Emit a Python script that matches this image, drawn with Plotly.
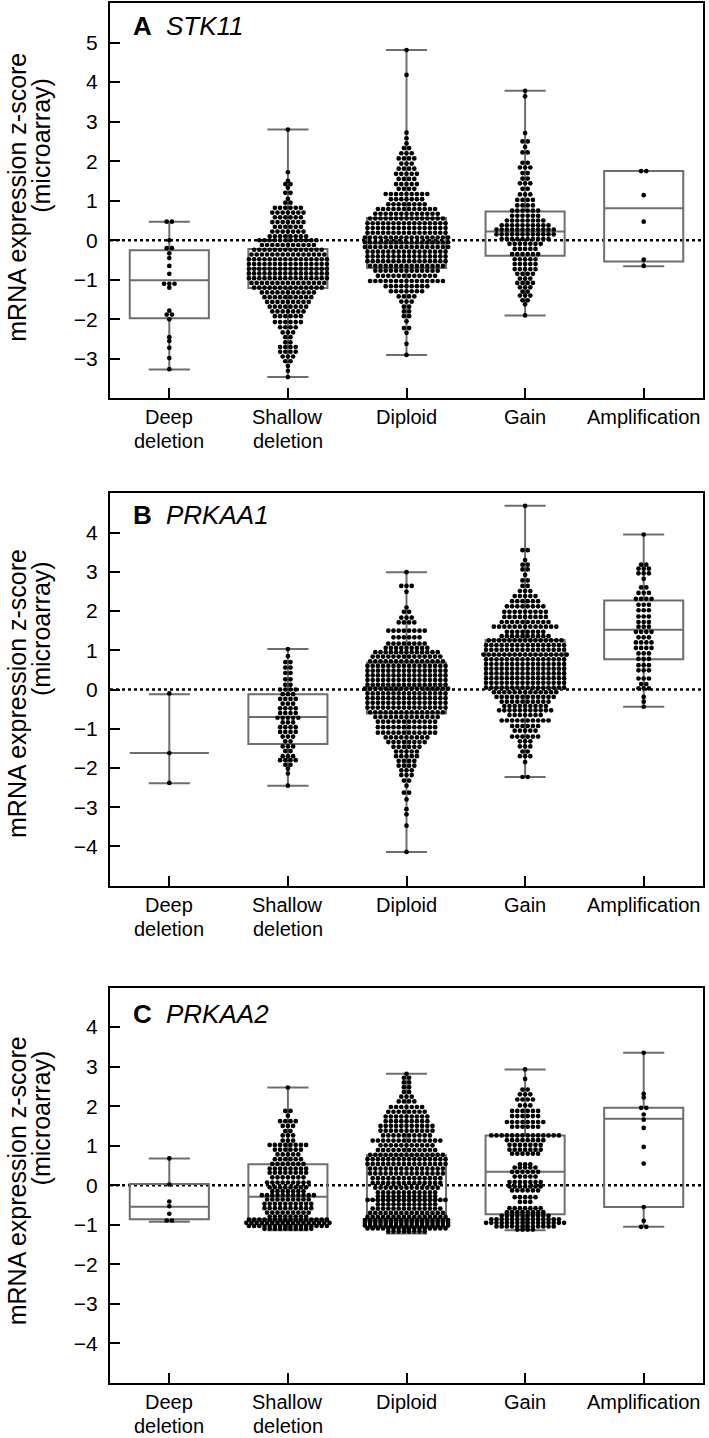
import plotly.graph_objects as go

# ---------------- categories ----------------
categories = ["Deep<br>deletion", "Shallow<br>deletion", "Diploid", "Gain", "Amplification"]
cat_pos = [0, 1, 2, 3, 4]

# ---------------- Panel A: STK11 (rows of the dot plot: level, number of dots) ----------------
stk11_deep_y = [0.47, 0.00, -0.20, -0.33, -0.45, -0.65, -0.85, -1.10, -1.20, -1.78, -1.88, -2.00, -2.45, -2.55, -2.72, -2.98, -3.26]
stk11_deep_n = [2, 1, 2, 1, 1, 1, 1, 3, 1, 1, 2, 1, 1, 1, 1, 1, 1]
stk11_shallow_y = [2.80, 1.72, 1.50, 1.42, 1.33, 1.20, 1.05, 0.95, 0.82, 0.70, 0.58, 0.46, 0.34, 0.22, 0.10, 0.00,
                   -0.12, -0.24, -0.36, -0.48, -0.60, -0.72, -0.84, -0.96, -1.08, -1.20, -1.32, -1.44, -1.56, -1.68,
                   -1.80, -1.92, -2.07, -2.20, -2.33, -2.45, -2.58, -2.70, -2.82, -2.94, -3.06, -3.18, -3.30, -3.46]
stk11_shallow_n = [1, 1, 1, 2, 1, 2, 1, 2, 6, 7, 6, 7, 6, 7, 8, 12,
                   11, 14, 15, 16, 16, 16, 16, 16, 15, 14, 11, 10, 9, 8,
                   7, 6, 6, 4, 3, 2, 2, 4, 4, 3, 2, 1, 1, 1]
stk11_diploid_y = [4.81, 4.18, 2.72, 2.58, 2.45, 2.33, 2.20, 2.07, 1.94, 1.81, 1.68, 1.55, 1.42, 1.30, 1.17, 1.04,
                   0.91, 0.79, 0.67, 0.55, 0.43, 0.31, 0.19, 0.07, -0.05, -0.17, -0.29, -0.41, -0.53, -0.65,
                   -0.77, -0.90, -1.03, -1.16, -1.29, -1.42, -1.55, -1.68, -1.80, -1.92, -2.05, -2.22, -2.34, -2.62, -2.90]
stk11_diploid_n = [1, 1, 1, 1, 1, 2, 3, 4, 3, 4, 5, 4, 5, 4, 9, 7,
                   8, 12, 13, 15, 16, 16, 16, 17, 17, 17, 16, 16, 16, 15,
                   13, 12, 15, 9, 7, 4, 3, 2, 2, 2, 1, 2, 1, 1, 1]
stk11_gain_y = [3.78, 3.64, 2.71, 2.50, 2.36, 2.22, 1.96, 1.84, 1.70, 1.56, 1.44, 1.30, 1.16, 1.02, 0.88, 0.75,
                0.62, 0.50, 0.38, 0.27, 0.15, 0.03, -0.09, -0.22, -0.35, -0.48, -0.60, -0.73, -0.85, -0.97,
                -1.08, -1.19, -1.30, -1.40, -1.52, -1.62, -1.90]
stk11_gain_n = [1, 1, 1, 2, 1, 2, 2, 3, 2, 2, 3, 2, 3, 4, 4, 6,
                6, 8, 10, 12, 12, 10, 7, 5, 6, 5, 5, 5, 4, 3,
                4, 3, 2, 3, 2, 1, 1]
stk11_amp_y = [1.75, 1.14, 0.47, -0.49, -0.65]
stk11_amp_n = [2, 1, 1, 1, 1]

stk11_q1 = [-1.97, -1.21, -0.70, -0.39, -0.54]
stk11_median = [-1.01, -0.72, -0.08, 0.22, 0.81]
stk11_q3 = [-0.25, -0.22, 0.56, 0.73, 1.75]
stk11_min = [-3.27, -3.46, -2.90, -1.90, -0.66]
stk11_max = [0.47, 2.80, 4.81, 3.78, 1.75]

# ---------------- Panel B: PRKAA1 ----------------
prkaa1_deep_y = [-0.10, -1.62, -2.38]
prkaa1_deep_n = [1, 1, 1]
prkaa1_shallow_y = [1.03, 0.85, 0.70, 0.56, 0.42, 0.26, 0.12, 0.00, -0.12, -0.24, -0.36, -0.48, -0.60, -0.72,
                    -0.84, -0.96, -1.08, -1.20, -1.32, -1.45, -1.57, -1.70, -1.80, -1.92, -2.02, -2.14, -2.45]
prkaa1_shallow_n = [1, 1, 2, 2, 2, 2, 2, 4, 3, 4, 3, 4, 4, 5,
                    3, 4, 4, 3, 2, 3, 2, 3, 4, 2, 1, 1, 1]
prkaa1_diploid_y = [2.99, 2.64, 2.49, 2.09, 1.98, 1.83, 1.71, 1.50, 1.33, 1.17, 1.06, 0.95, 0.84, 0.72, 0.60,
                    0.48, 0.36, 0.24, 0.12, 0.02, -0.10, -0.22, -0.34, -0.46, -0.58, -0.70, -0.82, -0.96,
                    -1.10, -1.22, -1.34, -1.46, -1.58, -1.70, -1.82, -1.94, -2.06, -2.18, -2.32, -2.45,
                    -2.63, -2.80, -3.05, -3.18, -3.47, -4.14]
prkaa1_diploid_n = [1, 3, 1, 1, 2, 3, 4, 8, 6, 8, 9, 13, 14, 15, 16,
                    16, 16, 16, 16, 17, 16, 16, 16, 16, 15, 13, 12, 12,
                    12, 9, 8, 6, 5, 5, 4, 4, 3, 3, 2, 1,
                    2, 1, 1, 1, 1, 1]
prkaa1_gain_y = [4.68, 3.55, 3.30, 3.18, 3.06, 2.92, 2.78, 2.64, 2.51, 2.38, 2.25, 2.12, 1.98, 1.85, 1.72,
                 1.60, 1.47, 1.36, 1.25, 1.13, 1.01, 0.89, 0.77, 0.65, 0.53, 0.41, 0.29, 0.17, 0.05,
                 -0.07, -0.19, -0.31, -0.42, -0.53, -0.65, -0.79, -0.93, -1.05, -1.20, -1.32, -1.45,
                 -1.58, -1.70, -1.85, -2.23]
prkaa1_gain_n = [1, 2, 1, 2, 2, 1, 2, 2, 3, 5, 6, 8, 9, 9, 10,
                 13, 8, 10, 15, 16, 16, 17, 16, 16, 16, 16, 16, 16, 16,
                 13, 12, 10, 9, 11, 7, 10, 6, 5, 6, 3, 3,
                 2, 3, 1, 2]
prkaa1_amp_y = [3.95, 3.18, 3.08, 2.96, 2.82, 2.60, 2.46, 2.31, 2.16, 2.02, 1.86, 1.72, 1.60, 1.47, 1.33,
                1.20, 1.06, 0.92, 0.78, 0.62, 0.49, 0.28, 0.14, 0.03, -0.19, -0.31, -0.44]
prkaa1_amp_n = [1, 2, 3, 3, 1, 2, 3, 4, 3, 3, 3, 3, 3, 4, 3,
                4, 4, 3, 3, 3, 3, 3, 2, 3, 1, 1, 1]

prkaa1_q1 = [-1.62, -1.39, -0.61, 0.03, 0.77]
prkaa1_median = [-1.62, -0.70, 0.03, 0.88, 1.52]
prkaa1_q3 = [-1.62, -0.12, 0.68, 1.26, 2.27]
prkaa1_min = [-2.39, -2.45, -4.14, -2.23, -0.44]
prkaa1_max = [-0.12, 1.03, 2.99, 4.68, 3.95]

# ---------------- Panel C: PRKAA2 ----------------
prkaa2_deep_y = [0.68, 0.02, -0.41, -0.53, -0.72, -0.89]
prkaa2_deep_n = [1, 1, 1, 1, 1, 2]
prkaa2_shallow_y = [2.47, 1.88, 1.76, 1.62, 1.50, 1.37, 1.26, 1.13, 1.02, 0.90, 0.78, 0.66, 0.54, 0.42,
                    0.32, 0.20, 0.07, -0.05, -0.15, -0.25, -0.36, -0.47, -0.58, -0.69, -0.79, -0.87,
                    -0.95, -1.03, -1.10]
prkaa2_shallow_n = [1, 2, 1, 4, 3, 2, 3, 3, 8, 6, 5, 6, 7, 8,
                    8, 7, 9, 8, 7, 11, 9, 10, 10, 9, 8, 16,
                    17, 16, 10]
prkaa2_diploid_y = [2.82, 2.72, 2.60, 2.48, 2.36, 2.24, 2.12, 1.98, 1.86, 1.74, 1.62, 1.50, 1.38, 1.26,
                    1.13, 1.01, 0.89, 0.77, 0.66, 0.54, 0.42, 0.30, 0.18, 0.06, -0.06, -0.18, -0.28,
                    -0.37, -0.48, -0.59, -0.70, -0.80, -0.88, -0.95, -1.02, -1.09, -1.17]
prkaa2_diploid_n = [1, 2, 2, 2, 2, 3, 4, 7, 8, 9, 9, 11, 11, 10,
                    14, 11, 12, 15, 16, 16, 15, 15, 14, 14, 13, 12, 12,
                    16, 12, 14, 15, 16, 17, 17, 17, 16, 8]
prkaa2_gain_y = [2.93, 2.69, 2.42, 2.30, 2.17, 2.02, 1.88, 1.75, 1.60, 1.48, 1.26, 1.14, 1.02, 0.90, 0.80,
                 0.53, 0.45, 0.34, 0.22, 0.08, -0.03, -0.13, -0.30, -0.42, -0.58, -0.68, -0.77, -0.86,
                 -0.95, -1.04, -1.12]
prkaa2_gain_n = [1, 1, 2, 3, 4, 3, 6, 6, 8, 6, 14, 8, 7, 7, 6,
                 3, 5, 6, 5, 7, 7, 6, 5, 3, 7, 8, 10, 14,
                 16, 12, 4]
prkaa2_amp_y = [3.35, 2.31, 2.22, 1.96, 1.79, 1.66, 1.45, 0.97, 0.55, -0.55, -0.90, -1.05]
prkaa2_amp_n = [1, 1, 1, 2, 1, 1, 1, 1, 1, 1, 1, 2]

prkaa2_q1 = [-0.86, -0.86, -0.90, -0.73, -0.55]
prkaa2_median = [-0.54, -0.29, -0.37, 0.34, 1.68]
prkaa2_q3 = [0.03, 0.53, 0.76, 1.26, 1.96]
prkaa2_min = [-0.92, -1.14, -1.22, -1.14, -1.05]
prkaa2_max = [0.68, 2.47, 2.82, 2.93, 3.35]

# ---------------- assemble ----------------
panels = [
    dict(letter="A", gene="STK11", yrange=[-4, 6], ticks=[-3, -2, -1, 0, 1, 2, 3, 4, 5],
         rows=[(stk11_deep_y, stk11_deep_n), (stk11_shallow_y, stk11_shallow_n),
               (stk11_diploid_y, stk11_diploid_n), (stk11_gain_y, stk11_gain_n), (stk11_amp_y, stk11_amp_n)],
         q1=stk11_q1, med=stk11_median, q3=stk11_q3, lo=stk11_min, hi=stk11_max,
         top=1, bottom=397, lab_y=24, t1=196, t2=144),
    dict(letter="B", gene="PRKAA1", yrange=[-5, 5], ticks=[-4, -3, -2, -1, 0, 1, 2, 3, 4],
         rows=[(prkaa1_deep_y, prkaa1_deep_n), (prkaa1_shallow_y, prkaa1_shallow_n),
               (prkaa1_diploid_y, prkaa1_diploid_n), (prkaa1_gain_y, prkaa1_gain_n), (prkaa1_amp_y, prkaa1_amp_n)],
         q1=prkaa1_q1, med=prkaa1_median, q3=prkaa1_q3, lo=prkaa1_min, hi=prkaa1_max,
         top=492, bottom=885, lab_y=514, t1=693, t2=628),
    dict(letter="C", gene="PRKAA2", yrange=[-5, 5], ticks=[-4, -3, -2, -1, 0, 1, 2, 3, 4],
         rows=[(prkaa2_deep_y, prkaa2_deep_n), (prkaa2_shallow_y, prkaa2_shallow_n),
               (prkaa2_diploid_y, prkaa2_diploid_n), (prkaa2_gain_y, prkaa2_gain_n), (prkaa2_amp_y, prkaa2_amp_n)],
         q1=prkaa2_q1, med=prkaa2_median, q3=prkaa2_q3, lo=prkaa2_min, hi=prkaa2_max,
         top=987, bottom=1383, lab_y=1013, t1=1181, t2=1118),
]

W, H = 709, 1438
ML, MR, MT, MB = 110, 6, 1, 55
PW = W - ML - MR
PH = H - MT - MB
FONT = "Liberation Sans, Arial, Helvetica, sans-serif"
BOX_GRAY = "#6e6e6e"
DOT_PX = 5.2
dx = DOT_PX / (PW / 5.0)   # horizontal spacing of dots in data units


def yp(py):
    return (H - MB - py) / PH


def xp(px):
    return (px - ML) / PW


fig = go.Figure()
shapes = []
annotations = []
layout_axes = {}

for i, p in enumerate(panels):
    sfx = "" if i == 0 else str(i + 1)
    xa, ya = "x" + sfx, "y" + sfx
    fig.add_trace(go.Box(
        x=cat_pos, q1=p["q1"], median=p["med"], q3=p["q3"],
        lowerfence=p["lo"], upperfence=p["hi"],
        width=0.667, whiskerwidth=0.52, boxpoints=False,
        line=dict(color=BOX_GRAY, width=2), fillcolor="rgba(255,255,255,0)",
        xaxis=xa, yaxis=ya, showlegend=False, hoverinfo="skip"))
    for c, (ys, ns) in zip(cat_pos, p["rows"]):
        px_, py_ = [], []
        for y, n in zip(ys, ns):
            for k in range(n):
                px_.append(c + (k - (n - 1) / 2.0) * dx)
                py_.append(y)
        fig.add_trace(go.Scatter(x=px_, y=py_, mode="markers",
                                 marker=dict(color="black", size=4.7, line=dict(width=0)),
                                 xaxis=xa, yaxis=ya, showlegend=False, hoverinfo="skip"))
    axis_common = dict(showline=True, linecolor="black", linewidth=2, mirror=True,
                       ticks="inside", ticklen=10, tickwidth=2, tickcolor="black",
                       showgrid=False, zeroline=False,
                       tickfont=dict(family=FONT, size=21, color="black"))
    layout_axes["xaxis" + sfx] = dict(axis_common, domain=[0, 1], range=[-0.5, 4.5],
                                      tickvals=cat_pos, ticktext=categories, anchor=ya,
                                      showticklabels=False)
    layout_axes["yaxis" + sfx] = dict(axis_common, domain=[yp(p["bottom"]), yp(p["top"])],
                                      range=p["yrange"], tickvals=p["ticks"], anchor=xa,
                                      ticklabelstandoff=6)
    shapes.append(dict(type="line", xref=xa + " domain", x0=0, x1=1, yref=ya, y0=0, y1=0,
                       line=dict(color="black", width=2.5, dash="dot"), layer="below"))
    # category labels (each line placed separately for tight line spacing)
    for c, lab in zip(cat_pos, categories):
        for li, part in enumerate(lab.split("<br>")):
            annotations.append(dict(text=part, x=c, xref=xa, y=yp(p["bottom"] + 19 + 24 * li),
                                    yref="paper", xanchor="center", yanchor="middle",
                                    showarrow=False, font=dict(family=FONT, size=20, color="black")))
    annotations.append(dict(text="<b>%s</b>" % p["letter"], x=xp(131), y=yp(p["lab_y"]),
                            xref="paper", yref="paper", xanchor="left", yanchor="middle",
                            showarrow=False, font=dict(family=FONT, size=26, color="black")))
    annotations.append(dict(text="<i>%s</i>" % p["gene"], x=xp(164), y=yp(p["lab_y"]),
                            xref="paper", yref="paper", xanchor="left", yanchor="middle",
                            showarrow=False, font=dict(family=FONT, size=26, color="black")))
    annotations.append(dict(text="mRNA expression z-score", x=xp(17), y=yp(p["t1"]),
                            xref="paper", yref="paper", xanchor="center", yanchor="middle",
                            textangle=-90, showarrow=False,
                            font=dict(family=FONT, size=25, color="black")))
    annotations.append(dict(text="(microarray)", x=xp(41), y=yp(p["t2"]),
                            xref="paper", yref="paper", xanchor="center", yanchor="middle",
                            textangle=-90, showarrow=False,
                            font=dict(family=FONT, size=25, color="black")))

fig.update_layout(
    width=W, height=H,
    margin=dict(l=ML, r=MR, t=MT, b=MB),
    paper_bgcolor="white", plot_bgcolor="white",
    font=dict(family=FONT, color="black"),
    showlegend=False,
    shapes=shapes, annotations=annotations,
    **layout_axes,
)

fig.write_html("out.html",
               config={"displayModeBar": False},
               post_script="document.body.style.margin='0px';document.body.style.padding='0px';")
